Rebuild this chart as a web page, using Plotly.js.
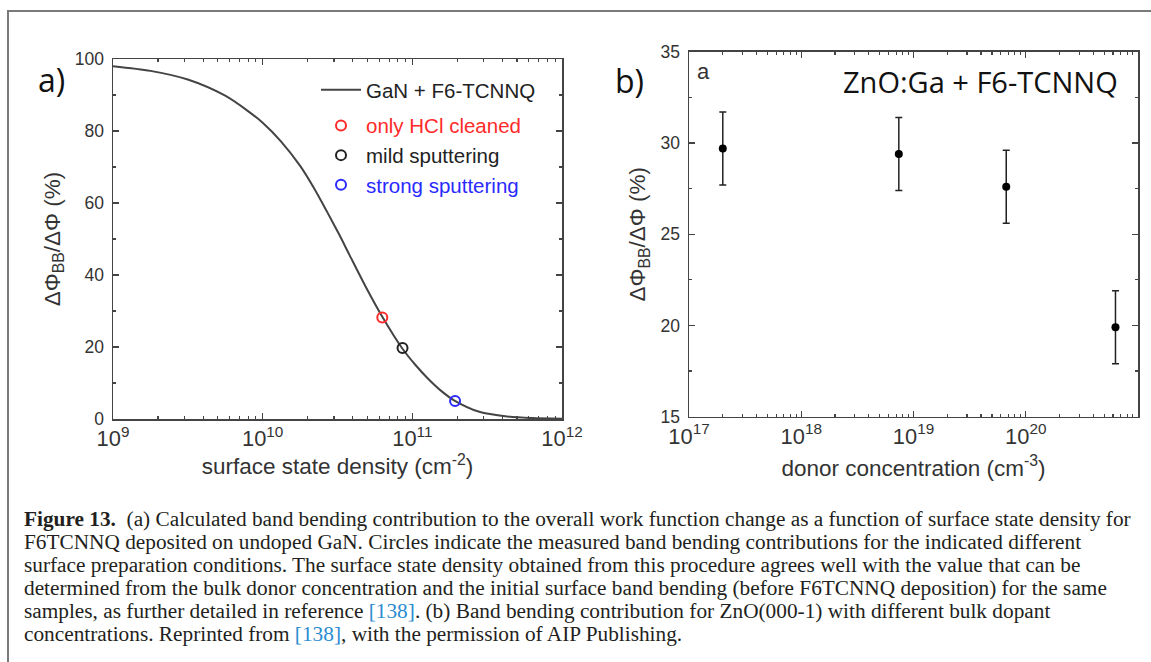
<!DOCTYPE html>
<html>
<head>
<meta charset="utf-8">
<script src="https://cdn.plot.ly/plotly-3.0.1.min.js"></script>
<style>
html,body{margin:0;padding:0;background:#fff;}
#chart{width:1151px;height:662px;}
</style>
</head>
<body>
<div id="chart"></div>
<script>
// ---- Panel (a): calculated curve GaN + F6-TCNNQ ----
const ganDensity = [1.0e9, 1.78e9, 3.16e9, 5.62e9, 7.94e9, 1.0e10, 1.32e10, 1.78e10, 2.19e10, 2.69e10, 3.24e10, 3.8e10, 5.0e10, 6.3e10, 8.5e10, 1.05e11, 1.26e11, 1.58e11, 1.9e11, 2.8e11, 4.3e11, 6.3e11, 1.0e12];
const ganRatio   = [98.0, 96.7, 94.3, 89.8, 85.6, 82.3, 77.2, 70.3, 64.3, 57.6, 51.3, 45.6, 35.9, 28.4, 19.8, 15.0, 11.4, 7.6, 5.2, 2.0, 0.7, 0.25, 0.1];

// measured points
const measNames   = ["only HCl cleaned", "mild sputtering", "strong sputtering"];
const measDensity = [6.3e10, 8.6e10, 1.93e11];
const measRatio   = [28.2, 19.7, 5.0];
const measColors  = ["#ff2a2a", "#222222", "#2a2aff"];

// ---- Panel (b): ZnO:Ga + F6-TCNNQ ----
const donorConc = [2.0e17, 7.4e18, 6.7e19, 6.3e20];
const znoRatio  = [29.7, 29.4, 27.6, 19.9];
const znoErr    = [2.0, 2.0, 2.0, 2.0];

const captionLines = [
  "<b>Figure 13.</b>\u00a0\u00a0(a) Calculated band bending contribution to the overall work function change as a function of surface state density for",
  "F6TCNNQ deposited on undoped GaN. Circles indicate the measured band bending contributions for the indicated different",
  "surface preparation conditions. The surface state density obtained from this procedure agrees well with the value that can be",
  "determined from the bulk donor concentration and the initial surface band bending (before F6TCNNQ deposition) for the same",
  "samples, as further detailed in reference <span style=\"color:#2b8ccf\">[138]</span>. (b) Band bending contribution for ZnO(000-1) with different bulk dopant",
  "concentrations. Reprinted from <span style=\"color:#2b8ccf\">[138]</span>, with the permission of AIP Publishing."
];

const W = 1151, H = 662;
const px = x => x / W;
const py = y => 1 - y / H;

const traces = [];
traces.push({
  x: ganDensity, y: ganRatio, type: 'scatter', mode: 'lines',
  line: {color: '#444', width: 2, shape: 'spline', smoothing: 0.8},
  name: 'GaN + F6-TCNNQ', xaxis: 'x', yaxis: 'y', legendgroup: 'g1'
});
for (let i = 0; i < measNames.length; i++) {
  traces.push({
    x: [measDensity[i]], y: [measRatio[i]], type: 'scatter', mode: 'markers',
    marker: {symbol: 'circle-open', size: 10, color: measColors[i], line: {width: 2, color: measColors[i]}},
    name: '<span style="color:' + measColors[i] + '">' + measNames[i] + '</span>',
    xaxis: 'x', yaxis: 'y', legendgroup: 'g2'
  });
}
traces.push({
  x: donorConc, y: znoRatio, type: 'scatter', mode: 'markers',
  marker: {symbol: 'circle', size: 8, color: '#000'},
  error_y: {type: 'data', array: znoErr, visible: true, color: '#222', thickness: 1.5, width: 3.5},
  xaxis: 'x2', yaxis: 'y2', showlegend: false
});

const axisFont = {family: 'Liberation Sans, Arial, sans-serif', size: 17.5, color: '#333'};
const titleFont = {family: 'Liberation Sans, Arial, sans-serif', size: 22.5, color: '#333'};
const axLine = {showline: true, linecolor: '#444', linewidth: 1.5, mirror: 'allticks', ticks: 'inside',
  ticklen: 6, tickwidth: 1.3, tickcolor: '#444', showgrid: false, zeroline: false, tickfont: axisFont};

const layout = {
  width: W, height: H,
  margin: {l: 0, r: 0, t: 0, b: 0},
  paper_bgcolor: '#fff', plot_bgcolor: '#fff',
  showlegend: true,
  legend: {x: px(316), y: py(70), xanchor: 'left', yanchor: 'top', bgcolor: 'rgba(0,0,0,0)',
    font: {family: 'Liberation Sans, Arial, sans-serif', size: 20.5, color: '#222'},
    traceorder: 'grouped', tracegroupgap: 6, itemwidth: 40},
  xaxis: Object.assign({}, axLine, {
    domain: [px(113), px(562)], anchor: 'y', type: 'log', range: [9, 12], dtick: 1,
    exponentformat: 'power',
    minor: {ticks: 'inside', ticklen: 3, tickcolor: '#444', tickwidth: 1.2, dtick: 'D1'},
    title: {text: 'surface state density (cm<sup>-2</sup>)', font: titleFont, standoff: 8},
    automargin: false
  }),
  yaxis: Object.assign({}, axLine, {
    domain: [py(419), py(59)], anchor: 'x', range: [0, 100], dtick: 20, ticklabelstandoff: 4,
    minor: {ticks: 'inside', ticklen: 3, tickcolor: '#444', tickwidth: 1.2, dtick: 10},
    title: {text: '\u0394\u03a6<sub>BB</sub>/\u0394\u03a6 (%)', font: titleFont, standoff: 8},
    automargin: false
  }),
  xaxis2: Object.assign({}, axLine, {
    domain: [px(689), px(1138)], anchor: 'y2', type: 'log', range: [17, 21], dtick: 1,
    exponentformat: 'power',
    minor: {ticks: 'inside', ticklen: 3, tickcolor: '#444', tickwidth: 1.2, dtick: 'D1'},
    title: {text: 'donor concentration (cm<sup>-3</sup>)', font: titleFont, standoff: 12},
    automargin: false
  }),
  yaxis2: Object.assign({}, axLine, {
    domain: [py(416.7), py(51.7)], anchor: 'x2', range: [15, 35], dtick: 5, ticklabelstandoff: 4,
    minor: {ticks: 'inside', ticklen: 3, tickcolor: '#444', tickwidth: 1.2, dtick: 2.5},
    title: {text: '\u0394\u03a6<sub>BB</sub>/\u0394\u03a6 (%)', font: titleFont, standoff: 8},
    automargin: false
  }),
  shapes: [
    {type: 'rect', xref: 'paper', yref: 'paper', x0: px(8), x1: 1.02, y0: -0.02, y1: py(11),
     line: {color: '#7a7a7a', width: 2}, fillcolor: 'rgba(0,0,0,0)'}
  ],
  annotations: [
    {text: 'a)', xref: 'paper', yref: 'paper', x: px(51), y: py(79), xanchor: 'center', yanchor: 'middle',
     showarrow: false, font: {family: 'Open Sans, sans-serif', size: 32, color: '#111'}},
    {text: 'b)', xref: 'paper', yref: 'paper', x: px(629), y: py(80), xanchor: 'center', yanchor: 'middle',
     showarrow: false, font: {family: 'Open Sans, sans-serif', size: 32, color: '#111'}},
    {text: 'a', xref: 'paper', yref: 'paper', x: px(703), y: py(72), xanchor: 'center', yanchor: 'middle',
     showarrow: false, font: {family: 'Liberation Sans, Arial, sans-serif', size: 22, color: '#333'}},
    {text: 'ZnO:Ga + F6-TCNNQ', xref: 'paper', yref: 'paper', x: px(980), y: py(82), xanchor: 'center', yanchor: 'middle',
     showarrow: false, font: {family: 'Open Sans, sans-serif', size: 29, color: '#111'}}
  ]
};

const capY = [519, 542, 565, 588, 611, 634];
for (let i = 0; i < captionLines.length; i++) {
  layout.annotations.push({
    text: captionLines[i], xref: 'paper', yref: 'paper', x: px(22), y: py(capY[i]),
    xanchor: 'left', yanchor: 'middle', showarrow: false, align: 'left',
    font: {family: 'Liberation Serif, Times New Roman, serif', size: 21.3, color: '#231f20'}
  });
}

Plotly.newPlot('chart', traces, layout, {displayModeBar: false, staticPlot: true});
</script>
</body>
</html>
